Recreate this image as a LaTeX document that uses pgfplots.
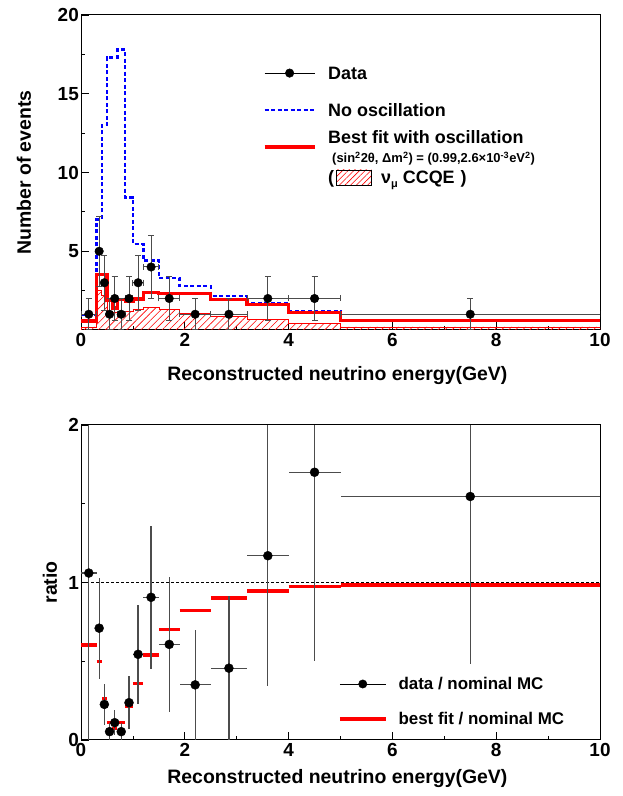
\documentclass[border=0pt]{standalone}
\usepackage{pgfplots}
\pgfplotsset{compat=1.18}
\usepackage{pgfplotstable}
\usetikzlibrary{patterns.meta}
\usepackage{fontspec}
\setmainfont{Liberation Sans}
\newcommand\tickfont{\bfseries\fontsize{19}{21}\selectfont}
\newcommand\titlefont{\bfseries\fontsize{19.5}{22}\selectfont}
\newcommand\legfont{\bfseries\fontsize{18}{20}\selectfont}
\newcommand\smallfont{\bfseries\fontsize{13}{14}\selectfont}
\definecolor{ebar}{gray}{0.3}

% data: number of events per bin
\pgfplotstableread{
x     y  ex     ey
0.15  1  0.15   1
0.35  5  0.05   2.236
0.45  3  0.05   1.732
0.55  1  0.05   1
0.65  2  0.05   1.414
0.775 1  0.075  1
0.925 2  0.075  1.414
1.1   3  0.1    1.732
1.35  4  0.15   2
1.7   2  0.2    1.414
2.2   1  0.3    1
2.85  1  0.35   1
3.6   2  0.4    1.414
4.5   2  0.5    1.414
7.5   1  2.5    1
}\datatab

% ratio data / nominal MC (vertical errors shown up to the frame)
\pgfplotstableread{
x     y      ex     eyp    eym
0.15  1.06   0.15   0.94   1.06
0.35  0.71   0.05   0.32   0.32
0.45  0.226  0.05   0.13   0.13
0.55  0.053  0.05   0.053  0.053
0.65  0.11   0.05   0.078  0.078
0.775 0.053  0.075  0.053  0.053
0.925 0.237  0.075  0.168  0.168
1.1   0.544  0.1    0.314  0.314
1.35  0.906  0.15   0.453  0.453
1.7   0.607  0.2    0.43   0.43
2.2   0.35   0.3    0.35   0.35
2.85  0.456  0.35   0.456  0.456
3.6   1.17   0.4    0.83   0.83
4.5   1.70   0.5    0.30   1.2
7.5   1.546  2.5    0.454  1.066
}\ratiotab

\pgfplotsset{
  myaxis/.style={
    scale only axis, width=519bp, height=315bp,
    xmin=0, xmax=10,
    xtick={0,2,...,10}, minor xtick={1,3,...,9},
    tick pos=left, tick align=inside,
    major tick length=8bp, minor tick length=4bp,
    every tick/.style={black, line width=0.8bp},
    axis line style={line width=1bp},
    /pgf/number format/assume math mode=true,
    ticklabel style={font=\tickfont},
    yticklabel style={inner sep=2bp},
    label style={font=\titlefont},
    xlabel={Reconstructed neutrino energy(GeV)},
  },
}

\begin{document}
\begin{tikzpicture}
\useasboundingbox (0,0) rectangle (623bp,796bp);

% ---------------- top panel ----------------
\begin{axis}[myaxis, at={(81bp,466bp)}, anchor=south west,
  ymin=0, ymax=20, ytick={5,10,15,20}, minor ytick={2.5,7.5,12.5,17.5},
  ylabel={Number of events},
  ylabel style={at={(axis description cs:-0.110,0.5)}, anchor=center},
  xlabel style={at={(axis description cs:0.494,-0.143)}, anchor=center},
  legend style={at={(axis description cs:0.3507,0.8397)}, anchor=north west,
    draw=none, fill=none, inner sep=0pt, outer sep=0pt, row sep=0pt, column sep=12bp,
    cells={anchor=base west},
    nodes={inner sep=0pt, outer sep=0pt, font=\legfont}},
]
% nu_mu CCQE component (hatched)
\addplot[forget plot, const plot, draw=red, line width=0.6bp,
  pattern={Lines[angle=45,distance=5bp,line width=0.6bp]}, pattern color=red]
  coordinates {(0,0.2) (0.3,2.5) (0.4,2.2) (0.5,1.0) (0.6,1.1) (0.7,1.2) (0.85,1.2)
  (1.0,1.3) (1.2,1.42) (1.5,1.3) (1.9,1.05) (2.5,0.85) (3.2,0.65) (4.0,0.42) (5.0,0.2) (10,0.2)} \closedcycle;
% no oscillation
\addplot[forget plot, const plot, blue, line width=2.5bp, dash pattern=on 4bp off 2.5bp]
  coordinates {(0,0.95) (0.3,7.0) (0.4,13.0) (0.5,17.3) (0.6,17.3) (0.7,17.8) (0.85,8.4)
  (1.0,5.45) (1.2,4.4) (1.5,3.3) (1.9,2.8) (2.5,2.15) (3.2,1.72) (4.0,1.18) (5.0,0.65) (10,0.65)};
% best fit
\addplot[forget plot, const plot, red, line width=3.2bp]
  coordinates {(0,0.57) (0.3,3.5) (0.4,3.5) (0.5,1.9) (0.6,1.4) (0.7,1.96) (0.85,1.81)
  (1.0,1.97) (1.2,2.38) (1.5,2.3) (1.9,2.3) (2.5,1.94) (3.2,1.63) (4.0,1.12) (5.0,0.62) (10,0.62)};
% data
\addplot[forget plot, only marks, mark=*, mark size=4.3bp, black,
  error bars/.cd, x dir=both, x explicit, y dir=both, y explicit,
  error bar style={line width=1bp, ebar},
  error mark options={rotate=90, mark size=3bp, line width=1bp, ebar}]
  table[x=x, y=y, x error=ex, y error=ey] {\datatab};

\addlegendimage{legend image code/.code={
  \draw[black, line width=0.8bp] (0bp,6.4bp) -- (50bp,6.4bp);
  \fill[black] (25bp,6.4bp) circle (4.3bp);
  \draw[blue, line width=2.5bp, dash pattern=on 4bp off 2.5bp] (0bp,-30.6bp) -- (50bp,-30.6bp);
  \draw[red, line width=3.2bp] (0bp,-67.5bp) -- (50bp,-67.5bp);
  \fill[overlay, pattern={Lines[angle=45,distance=4bp,line width=0.6bp]}, pattern color=red] (72bp,-105.5bp) rectangle (107bp,-90.5bp);
}}
\addlegendentry{\vtop{\offinterlineskip
  \hbox{Data\rule[-19bp]{0pt}{33bp}}
  \hbox{No oscillation\rule[-9bp]{0pt}{27bp}}
  \hbox{Best fit with oscillation\rule[-6bp]{0pt}{24bp}}
  \hbox{\smallfont\hspace{4bp}(sin\textsuperscript{2}2θ, Δm\textsuperscript{2}) = (0.99,2.6×10\textsuperscript{-3}eV\textsuperscript{2})\rule[-5bp]{0pt}{18bp}}
  \hbox{\makebox[53bp][l]{(}ν\raisebox{-4bp}{\fontsize{11}{11}\selectfont μ} CCQE\hspace{6bp})\rule[-5bp]{0pt}{21bp}}}}
\end{axis}

% ---------------- bottom panel ----------------
\begin{axis}[myaxis, at={(81bp,56bp)}, anchor=south west,
  ymin=0, ymax=2, ytick={0,1,2}, minor ytick={0.5,1.5},
  ylabel={ratio},
  ylabel style={at={(axis description cs:-0.060,0.5)}, anchor=center},
  xlabel style={at={(axis description cs:0.494,-0.121)}, anchor=center},
  legend style={at={(axis description cs:0.4952,0.2032)}, anchor=north west,
    draw=none, fill=none, inner sep=0pt, outer sep=0pt, row sep=0pt, column sep=11bp,
    cells={anchor=base west},
    nodes={inner sep=0pt, outer sep=0pt, font=\bfseries\fontsize{17}{19}\selectfont}},
]
\addplot[forget plot, black, line width=0.6bp, dash pattern=on 3bp off 2bp] coordinates {(0,1) (10,1)};
% best fit / nominal MC
\addplot[forget plot, red, line width=3.5bp, unbounded coords=jump] coordinates {
  (0,0.603) (0.3,0.603) (0.3,nan)
  (0.3,0.497) (0.4,0.497) (0.4,nan)
  (0.4,0.265) (0.5,0.265) (0.5,nan)
  (0.5,0.11) (0.6,0.11) (0.6,nan)
  (0.6,0.074) (0.7,0.074) (0.7,nan)
  (0.7,0.11) (0.85,0.11) (0.85,nan)
  (0.85,0.216) (1.0,0.216) (1.0,nan)
  (1.0,0.36) (1.2,0.36) (1.2,nan)
  (1.2,0.54) (1.5,0.54) (1.5,nan)
  (1.5,0.70) (1.9,0.70) (1.9,nan)
  (1.9,0.822) (2.5,0.822) (2.5,nan)
  (2.5,0.90) (3.2,0.90) (3.2,nan)
  (3.2,0.947) (4.0,0.947) (4.0,nan)
  (4.0,0.975) (5.0,0.975) (5.0,nan)
  (5.0,0.985) (10,0.985)};
% data / nominal MC
\addplot[forget plot, only marks, mark=*, mark size=4.5bp, black,
  error bars/.cd, x dir=both, x explicit, y dir=both, y explicit,
  error bar style={line width=1.2bp, ebar}, error mark=none]
  table[x=x, y=y, x error=ex, y error plus=eyp, y error minus=eym] {\ratiotab};

\addlegendimage{legend image code/.code={
  \draw[black, line width=0.8bp] (0bp,6bp) -- (46bp,6bp);
  \fill[black] (23bp,6bp) circle (4.2bp);
  \draw[red, line width=3.5bp] (0bp,-29bp) -- (46bp,-29bp);
}}
\addlegendentry{\vtop{\offinterlineskip
  \hbox{data / nominal MC\rule[-17bp]{0pt}{31bp}}
  \hbox{best fit / nominal MC\rule[-4bp]{0pt}{22bp}}}}
\end{axis}
\end{tikzpicture}
\end{document}
